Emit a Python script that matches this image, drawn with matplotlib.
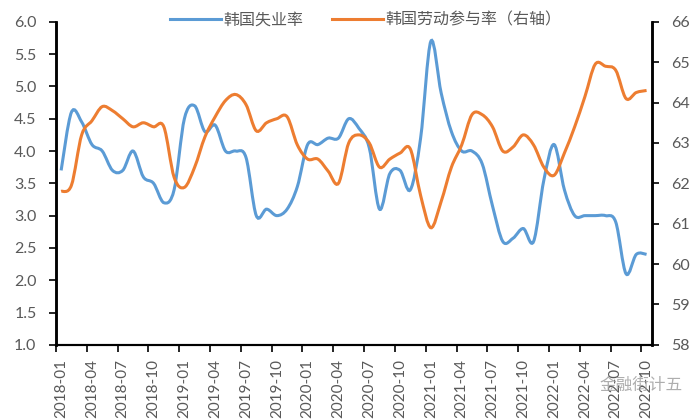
import numpy as np
import matplotlib
matplotlib.use('Agg')
import matplotlib.pyplot as plt
from matplotlib.path import Path
from matplotlib.patches import PathPatch

plt.rcParams['font.family'] = ['Lato', 'Noto Sans CJK SC', 'DejaVu Sans']

# monthly, 2018-01 .. 2022-10
months = ['%d-%02d' % (y, m) for y in range(2018, 2023) for m in range(1, 13)][:58]

unemp = [3.7, 4.6, 4.45, 4.1, 4.0, 3.7, 3.7, 4.0, 3.6, 3.5, 3.2, 3.4,
         4.5, 4.7, 4.3, 4.4, 4.0, 4.0, 3.9, 3.0, 3.1, 3.0, 3.1, 3.45,
         4.1, 4.1, 4.2, 4.2, 4.5, 4.35, 4.05, 3.1, 3.65, 3.7, 3.4, 4.2,
         5.7, 4.9, 4.3, 4.0, 4.0, 3.8, 3.15, 2.6, 2.65, 2.8, 2.6, 3.55,
         4.1, 3.4, 3.0, 3.0, 3.0, 3.0, 2.9, 2.1, 2.4, 2.4]

partic = [61.8, 61.95, 63.2, 63.55, 63.9, 63.8, 63.6, 63.4, 63.5, 63.4, 63.4, 62.15,
          61.9, 62.4, 63.15, 63.65, 64.05, 64.2, 63.95, 63.3, 63.5, 63.6, 63.65, 62.95,
          62.6, 62.6, 62.3, 62.0, 63.0, 63.2, 63.0, 62.4, 62.6, 62.75, 62.85, 61.7,
          60.9, 61.55, 62.4, 62.95, 63.7, 63.7, 63.4, 62.8, 62.9, 63.2, 62.95, 62.4,
          62.2, 62.75, 63.4, 64.15, 64.95, 64.9, 64.8, 64.1, 64.25, 64.3]

blue = '#5B9BD5'
orange = '#ED7D31'
grey = '#595959'


def smooth_path(xs, ys):
    # excel style smoothed line as bezier segments
    p = np.column_stack([xs, ys]).astype(float)
    n = len(p)
    verts = [p[0]]
    codes = [Path.MOVETO]
    for i in range(n - 1):
        p0 = p[max(i - 1, 0)]
        p1 = p[i]
        p2 = p[i + 1]
        p3 = p[min(i + 2, n - 1)]
        verts += [p1 + (p2 - p0) / 6, p2 - (p3 - p1) / 6, p2]
        codes += [Path.CURVE4] * 3
    return Path(verts, codes)


x = np.arange(len(months))

fig = plt.figure(figsize=(7, 4.2), dpi=100)
ax = fig.add_axes([0.08, 0.179, 0.851, 0.769])
ax2 = ax.twinx()

ax.add_patch(PathPatch(smooth_path(x, unemp), fill=False, color=blue, lw=2.2, zorder=3))
ax2.add_patch(PathPatch(smooth_path(x, partic), fill=False, color=orange, lw=2.2, zorder=2))

ax.set_xlim(-0.5, len(months) - 0.5)
ax.set_ylim(1.0, 6.0)
ax2.set_ylim(58, 66)
ax.set_yticks(np.arange(1.0, 6.01, 0.5))
ax.set_yticklabels(['%.1f' % v for v in np.arange(1.0, 6.01, 0.5)])
ax2.set_yticks(range(58, 67))

# tick marks between categories, labels on categories
ax.set_xticks(np.arange(0, len(months), 3) - 0.5)
ax.set_xticklabels([])
ax.set_xticks(np.arange(0, len(months), 3), minor=True)
ax.set_xticklabels(months[::3], minor=True, rotation=90, fontsize=11, color=grey)
ax.tick_params(axis='x', which='minor', length=0, pad=10)
ax.tick_params(axis='x', which='major', length=5, width=1.2, direction='out')

ax.tick_params(axis='y', labelsize=11.5, labelcolor=grey, length=5, width=1.2, pad=9)
ax2.tick_params(axis='y', labelsize=11.5, labelcolor=grey, length=5, width=1.2, pad=9)

for a in (ax, ax2):
    a.spines['top'].set_visible(False)
    a.spines['left'].set_linewidth(1.8)
    a.spines['right'].set_linewidth(1.8)
    a.spines['bottom'].set_linewidth(1.5)

# legend
h1, = ax.plot([], [], color=blue, lw=2.2, label='韩国失业率')
h2, = ax.plot([], [], color=orange, lw=2.2, label='韩国劳动参与率（右轴）')
leg = ax.legend(handles=[h1, h2], loc='upper center', bbox_to_anchor=(0.52, 1.075),
                ncol=2, frameon=False, fontsize=11.5, handlelength=3.2,
                columnspacing=1.8, handletextpad=0.15)
for t in leg.get_texts():
    t.set_color(grey)

fig.text(0.975, 0.083, '金融街计五', ha='right', va='center', fontsize=12,
         color='#9a9a9a', alpha=0.8)

fig.savefig('out.png', dpi=100, facecolor='white')
